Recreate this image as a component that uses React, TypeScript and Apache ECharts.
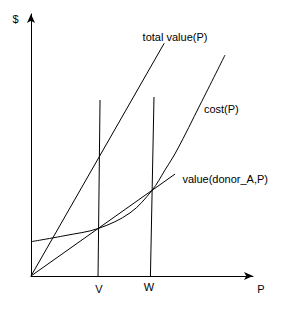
import React, { useEffect, useRef } from "react";
import * as echarts from "echarts";

const X_MAX = 10;
const Y_MAX = 12;

const totalValue: number[][] = [[0, 0], [6.0, 10.66]];
const costCurve: number[][] = [
  [0.05, 1.58], [1.53, 1.85], [3.04, 2.18], [4.46, 2.89], [5.45, 3.92],
  [6.04, 4.86], [6.58, 5.77], [7.61, 7.83], [8.74, 10.12],
];
const donorValue: number[][] = [[0, 0], [6.49, 4.67]];
const vLine: number[][] = [[3.02, 0], [3.11, 8.06]];
const wLine: number[][] = [[5.38, 0], [5.54, 8.2]];

const labels = {
  total: "total value(P)",
  cost: "cost(P)",
  donor: "value(donor_A,P)",
  v: "V",
  w: "W",
  yName: "$",
  xName: "P",
};

const FONT = "'Liberation Sans', Arial, sans-serif";
const INK = "#000";

function withLabel(
  data: number[][],
  idx: number,
  text: string,
  position: number[],
  align: string
) {
  return data.map((d, i) =>
    i === idx
      ? {
          value: d,
          label: {
            show: true,
            formatter: text,
            position,
            align,
            verticalAlign: "middle",
            fontSize: 11,
            fontFamily: FONT,
            color: INK,
          },
        }
      : { value: d }
  );
}

function lineSeries(name: string, data: any[], smooth: boolean | number = false) {
  return {
    name,
    type: "line",
    data,
    smooth,
    showSymbol: true,
    symbol: "circle",
    symbolSize: 0,
    silent: true,
    lineStyle: { color: INK, width: 1 },
    itemStyle: { color: INK },
    label: { show: false },
    emphasis: { disabled: true },
  };
}

export default function App() {
  const ref = useRef<HTMLDivElement>(null);
  useEffect(() => {
    document.body.style.margin = "0";
    if (!ref.current) return;
    const chart = echarts.init(ref.current, null, { renderer: "svg" });
    chart.setOption({
      animation: false,
      backgroundColor: "#fff",
      grid: { left: 31, top: 14, width: 222, height: 262 },
      xAxis: {
        type: "value",
        min: 0,
        max: X_MAX,
        axisLine: {
          show: true,
          onZero: false,
          lineStyle: { color: INK, width: 1 },
          symbol: ["none", "arrow"],
          symbolSize: [6, 9],
        },
        axisTick: { show: false },
        axisLabel: { show: false },
        splitLine: { show: false },
      },
      yAxis: {
        type: "value",
        min: 0,
        max: Y_MAX,
        axisLine: {
          show: true,
          onZero: false,
          lineStyle: { color: INK, width: 1 },
          symbol: ["none", "arrow"],
          symbolSize: [6, 9],
        },
        axisTick: { show: false },
        axisLabel: { show: false },
        splitLine: { show: false },
      },
      graphic: [
        {
          type: "text",
          x: 15.5,
          y: 18.5,
          silent: true,
          style: {
            text: labels.yName,
            align: "center",
            verticalAlign: "middle",
            fontSize: 11,
            fontFamily: FONT,
            fill: INK,
          },
        },
        {
          type: "text",
          x: 261,
          y: 289,
          silent: true,
          style: {
            text: labels.xName,
            align: "center",
            verticalAlign: "middle",
            fontSize: 11,
            fontFamily: FONT,
            fill: INK,
          },
        },
      ],
      series: [
        lineSeries("total", withLabel(totalValue, 1, labels.total, [-21.6, -5.8], "left")),
        lineSeries("cost", withLabel(costCurve, 7, labels.cost, [4, 4], "left"), 0.35),
        lineSeries("donor", withLabel(donorValue, 1, labels.donor, [7.3, 4.5], "left")),
        lineSeries("V", withLabel(vLine, 0, labels.v, [1, 13], "center")),
        lineSeries("W", withLabel(wLine, 0, labels.w, [-1.5, 11], "center")),
      ],
    });
    return () => chart.dispose();
  }, []);
  return (
    <div
      ref={ref}
      style={{ position: "absolute", left: 0, top: 0, width: 291, height: 310 }}
    />
  );
}
